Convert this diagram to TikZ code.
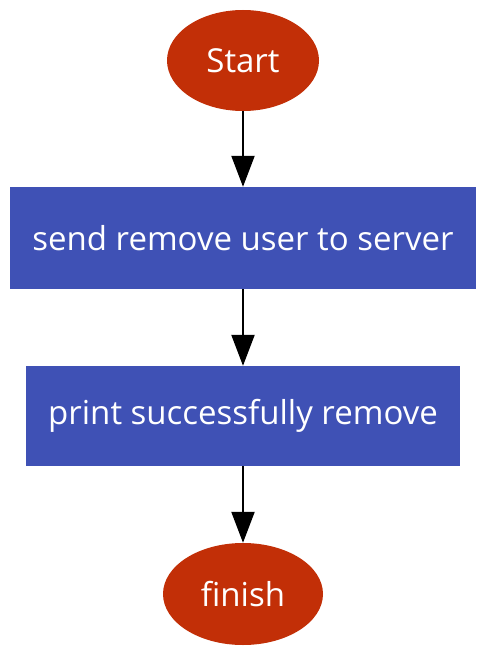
\documentclass[tikz,border=0pt]{standalone}
\usepackage{fontspec}
\setmainfont{Open Sans}
\usepackage{tikz}
\usetikzlibrary{arrows.meta,shapes.geometric}

\definecolor{termred}{HTML}{C22F07}
\definecolor{stepblue}{HTML}{3F51B5}

\tikzset{
    terminal/.style={ellipse,fill=termred,text=white,inner sep=0pt},
    stepbox/.style={rectangle,fill=stepblue,text=white,inner sep=0pt},
    flow/.style={-{Triangle[length=31pt,width=23pt]},line width=2.2pt,black}
}

\begin{document}
\begin{tikzpicture}[x=1pt,y=-1pt,font=\fontsize{33}{40}\selectfont]
    \useasboundingbox (0,0) rectangle (500,669);
    \node[terminal,minimum width=152pt,minimum height=101pt] (start) at (243,60.5) {Start};
    \node[stepbox,minimum width=466pt,minimum height=102pt] (send) at (243,238) {send remove user to server};
    \node[stepbox,minimum width=434pt,minimum height=100pt] (print) at (243,416) {print successfully remove};
    \node[terminal,minimum width=160pt,minimum height=102pt] (finish) at (243,594) {finish};
    \draw[flow] (start) -- (send);
    \draw[flow] (send) -- (print);
    \draw[flow] (print) -- (finish);
\end{tikzpicture}
\end{document}
